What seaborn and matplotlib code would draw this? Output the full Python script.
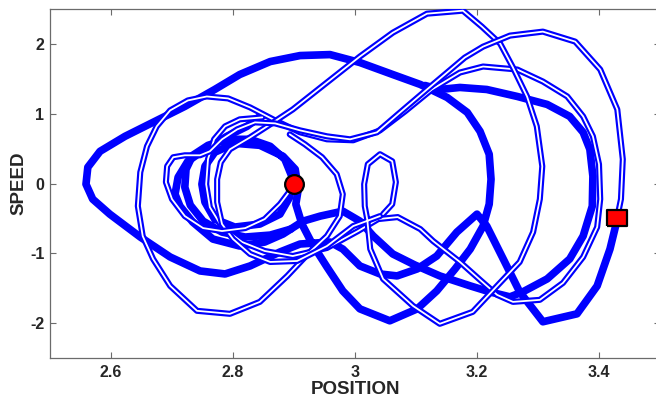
import matplotlib
matplotlib.use("Agg")
import matplotlib.pyplot as plt
import seaborn as sns
import numpy as np

# ---------------- data (position, speed) ----------------
# thick solid trajectory pieces
thick_a_x = [2.907, 2.903, 2.913, 2.930, 2.954, 2.980, 3.008, 3.057, 3.102, 3.134, 3.164, 3.189, 3.210, 3.220, 3.223,
             3.220, 3.205, 3.184, 3.151, 3.107, 3.062, 3.008, 2.959, 2.910, 2.861, 2.811, 2.770, 2.721, 2.672, 2.623,
             2.582, 2.562, 2.559, 2.570, 2.598, 2.648, 2.697, 2.746, 2.787, 2.828, 2.877, 2.910, 2.959, 2.980, 3.008,
             3.041, 3.069, 3.102, 3.134, 3.167, 3.200, 3.216, 3.243, 3.270, 3.308, 3.364, 3.397, 3.418, 3.430]
thick_a_y = [-0.081, -0.296, -0.581, -0.867, -1.196, -1.539, -1.796, -1.967, -1.796, -1.539, -1.224, -0.939, -0.610,
             -0.296, 0.061, 0.419, 0.747, 1.019, 1.233, 1.419, 1.561, 1.733, 1.847, 1.833, 1.747, 1.561, 1.347, 1.104,
             0.890, 0.676, 0.461, 0.233, -0.010, -0.224, -0.439, -0.767, -1.053, -1.253, -1.296, -1.181, -0.981,
             -0.867, -0.839, -0.939, -1.181, -1.296, -1.324, -1.224, -1.039, -0.696, -0.439, -0.610, -1.081, -1.553,
             -1.981, -1.867, -1.467, -0.939, -0.510]

thick_b_x = [2.844, 2.823, 2.790, 2.754, 2.726, 2.710, 2.705, 2.713, 2.734, 2.767, 2.811, 2.852, 2.882, 2.915, 2.943,
             2.980, 3.008, 3.030, 3.062, 3.098, 3.139, 3.189, 3.221, 3.254, 3.275, 3.315, 3.352, 3.374, 3.389, 3.390,
             3.385, 3.374, 3.352, 3.315, 3.266, 3.216, 3.172, 3.139, 3.115]
thick_b_y = [0.961, 0.819, 0.676, 0.490, 0.319, 0.090, -0.153, -0.324, -0.553, -0.796, -0.896, -0.839, -0.724, -0.539,
             -0.467, -0.396, -0.539, -0.753, -1.010, -1.167, -1.324, -1.467, -1.553, -1.624, -1.553, -1.367, -1.081,
             -0.753, -0.324, 0.104, 0.490, 0.733, 0.961, 1.133, 1.247, 1.347, 1.376, 1.347, 1.404]

thick_c_x = [2.895, 2.861, 2.820, 2.782, 2.751, 2.730, 2.721, 2.723, 2.734, 2.759, 2.790, 2.828, 2.861, 2.885, 2.897,
             2.893, 2.877, 2.844, 2.803, 2.770, 2.754, 2.749, 2.754, 2.770, 2.803, 2.844, 2.882, 2.902, 2.907]
thick_c_y = [-0.653, -0.739, -0.767, -0.696, -0.539, -0.310, -0.053, 0.204, 0.404, 0.547, 0.633, 0.633, 0.533, 0.347,
             0.090, -0.196, -0.439, -0.581, -0.624, -0.510, -0.267, -0.010, 0.247, 0.447, 0.576, 0.547, 0.390, 0.204,
             -0.081]

# double-line (outlined) trajectory pieces
dbl_a_x = [2.893, 2.877, 2.852, 2.820, 2.782, 2.751, 2.721, 2.700, 2.690, 2.692, 2.702, 2.721, 2.746, 2.762, 2.782,
           2.807, 2.836, 2.869, 2.910, 2.954, 2.992, 3.036, 3.074, 3.118, 3.151, 3.180, 3.210, 3.254, 3.308, 3.361,
           3.402, 3.430, 3.439, 3.436, 3.431]
dbl_a_y = [-0.110, -0.296, -0.510, -0.639, -0.681, -0.639, -0.467, -0.224, 0.019, 0.247, 0.376, 0.404, 0.404, 0.461,
           0.633, 0.776, 0.876, 0.861, 0.761, 0.676, 0.633, 0.733, 1.019, 1.347, 1.590, 1.804, 1.961, 2.119, 2.176,
           2.033, 1.633, 1.061, 0.347, -0.224, -0.439]

dbl_b_x = [3.041, 2.997, 2.954, 2.905, 2.861, 2.828, 2.800, 2.782, 2.774, 2.774, 2.780, 2.795, 2.828, 2.861, 2.898,
           2.954, 3.008, 3.062, 3.118, 3.177, 3.208, 3.238, 3.259, 3.282, 3.298, 3.307, 3.303, 3.292, 3.270, 3.233,
           3.193, 3.139, 3.095, 3.046, 3.025, 3.020, 3.016, 3.015, 3.021, 3.041, 3.061, 3.067, 3.061, 3.046]
dbl_b_y = [-0.467, -0.610, -0.896, -1.110, -1.124, -1.010, -0.796, -0.581, -0.267, 0.061, 0.304, 0.490, 0.661, 0.847,
           1.061, 1.447, 1.819, 2.161, 2.433, 2.476, 2.247, 2.004, 1.661, 1.247, 0.819, 0.247, -0.224, -0.696, -1.124,
           -1.467, -1.839, -2.010, -1.753, -1.367, -0.939, -0.510, -0.324, -0.010, 0.276, 0.419, 0.319, 0.019,
           -0.296, -0.439]

dbl_c_x = [2.848, 2.811, 2.787, 2.769, 2.759, 2.756, 2.762, 2.782, 2.815, 2.852, 2.898, 2.954, 3.005, 3.038, 3.070,
           3.107, 3.128, 3.172, 3.205, 3.233, 3.259, 3.303, 3.341, 3.374, 3.397, 3.402, 3.400, 3.390, 3.374, 3.348,
           3.308, 3.266, 3.210, 3.172, 3.126, 3.082, 3.041, 2.997, 2.954, 2.910, 2.869, 2.828, 2.792, 2.757, 2.726,
           2.697, 2.675, 2.659, 2.648, 2.644, 2.652, 2.669, 2.697, 2.741, 2.795, 2.844, 2.889, 2.926, 2.954, 2.975,
           2.980, 2.970, 2.946, 2.918, 2.893]
dbl_c_y = [0.947, 0.919, 0.819, 0.633, 0.347, -0.010, -0.339, -0.624, -0.839, -0.967, -1.039, -0.924, -0.681, -0.510,
           -0.481, -0.653, -0.824, -1.124, -1.381, -1.596, -1.696, -1.667, -1.424, -1.053, -0.624, -0.224, 0.276,
           0.676, 0.961, 1.247, 1.461, 1.633, 1.676, 1.590, 1.347, 1.033, 0.761, 0.619, 0.633, 0.733, 0.904, 1.090,
           1.219, 1.247, 1.190, 1.047, 0.819, 0.533, 0.161, -0.324, -0.753, -1.081, -1.467, -1.824, -1.867, -1.696,
           -1.324, -0.981, -0.753, -0.467, -0.153, 0.133, 0.376, 0.561, 0.704]

start_pt = (2.90, 0.0)
end_pt = (3.43, -0.49)

x_ticks = [2.6, 2.8, 3.0, 3.2, 3.4]
y_ticks = [-2, -1, 0, 1, 2]
x_label = "POSITION"
y_label = "SPEED"

# ---------------- style ----------------
sns.set_theme(style="white")
plt.rcParams["font.family"] = ["Liberation Sans", "DejaVu Sans"]
plt.rcParams["font.weight"] = "bold"

fig = plt.figure(figsize=(6.56, 3.97), dpi=100)
ax = fig.add_axes([50 / 656, 39 / 397, 610 / 656, 349 / 397])

BLUE = "#0000ff"

def draw(xs, ys, lw, color, z):
    sns.lineplot(x=xs, y=ys, sort=False, estimator=None, color=color, linewidth=lw, ax=ax,
                 zorder=z, legend=False)

# thick trajectory
for xs, ys in [(thick_a_x, thick_a_y), (thick_b_x, thick_b_y), (thick_c_x, thick_c_y)]:
    draw(xs, ys, 5.5, BLUE, 2)

# double-line trajectory (blue outline with white core)
z = 3
for xs, ys in [(dbl_c_x, dbl_c_y), (dbl_b_x, dbl_b_y), (dbl_a_x, dbl_a_y)]:
    draw(xs, ys, 4.4, BLUE, z)
    draw(xs, ys, 1.3, "white", z + 0.5)
    z += 1

for line in ax.get_lines():
    line.set_solid_joinstyle("round")
    line.set_solid_capstyle("round")

ax.plot([start_pt[0]], [start_pt[1]], marker="o", ms=13.5, mfc="#ff0000", mec="black", mew=1.6,
        linestyle="none", zorder=10)
rect = [(-1.25, -1), (1.25, -1), (1.25, 1), (-1.25, 1), (-1.25, -1)]
ax.plot([end_pt[0]], [end_pt[1]], marker=rect, ms=14.5, mfc="#ff0000", mec="black", mew=1.6,
        linestyle="none", zorder=10)

ax.set_xlim(2.5, 3.5)
ax.set_ylim(-2.5, 2.5)
ax.set_xticks(x_ticks)
ax.set_yticks(y_ticks)
ax.set_xticklabels([f"{v:g}" for v in x_ticks])
ax.set_yticklabels([f"{v:g}" for v in y_ticks])

for s in ax.spines.values():
    s.set_visible(True)
    s.set_color("#6b6b6b")
    s.set_linewidth(0.9)

ax.tick_params(axis="both", direction="in", length=4, width=0.8, color="#6b6b6b",
               labelsize=11.5, labelcolor="#262626", top=True, right=True,
               bottom=True, left=True)
ax.tick_params(axis="x", pad=5)
ax.tick_params(axis="y", pad=4)
for lab in ax.get_xticklabels() + ax.get_yticklabels():
    lab.set_fontweight("bold")

ax.set_xlabel(x_label, fontsize=13.5, fontweight="bold", color="#262626", labelpad=0.5)
ax.set_ylabel(y_label, fontsize=13.5, fontweight="bold", color="#262626", labelpad=2)

fig.savefig("out.png", dpi=100)
